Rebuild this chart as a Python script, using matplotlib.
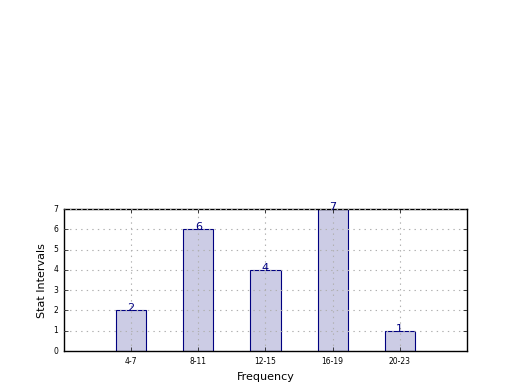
import matplotlib
matplotlib.use("Agg")
import matplotlib.pyplot as plt
import numpy as np

categories = ["4-7", "8-11", "12-15", "16-19", "20-23"]
values = [2, 6, 4, 7, 1]

plt.style.use("classic")
fig = plt.figure(figsize=(5.2, 3.9), dpi=100)
fig.patch.set_facecolor("white")
fig.subplots_adjust(left=0.123, right=0.898)
ax = fig.add_subplot(212)

ind = np.arange(len(categories))
bars = ax.bar(ind, values, 0.45, align="center", color="#ccccE5", edgecolor="navy", linewidth=0.8)
for x, v in zip(ind, values):
    ax.annotate(str(v), (x, v), xytext=(0, -2), textcoords="offset points",
                ha="center", va="bottom", color="navy", fontsize=8)

ax.set_xlim(-1, 5)
ax.set_ylim(0, 7)
ax.set_xticks(ind)
ax.set_xticklabels(categories)
ax.tick_params(labelsize=5.5, direction="in", length=3)
ax.set_xlabel("Frequency", fontsize=8)
ax.set_ylabel("Stat Intervals", fontsize=8)
ax.grid(True, linestyle=":", color="#b0b0b0", linewidth=0.8)

fig.savefig("out.png", dpi=100)
